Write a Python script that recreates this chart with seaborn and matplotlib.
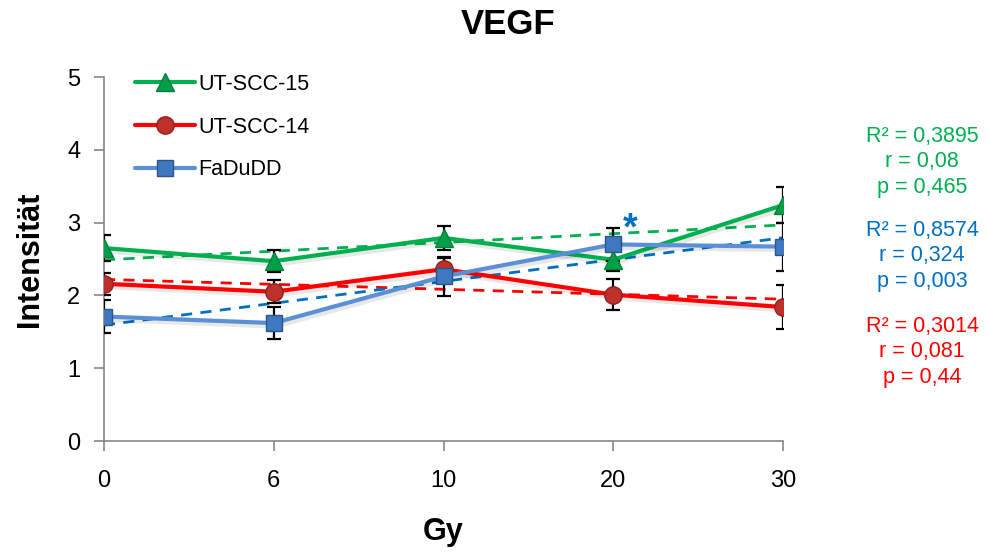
import numpy as np
import pandas as pd
import matplotlib
matplotlib.use("Agg")
import matplotlib.pyplot as plt
import matplotlib.patheffects as pe
from matplotlib.lines import Line2D
import seaborn as sns

# ---- data ----
doses = ["0", "6", "10", "20", "30"]
series_names = ["UT-SCC-15", "UT-SCC-14", "FaDuDD"]
utscc15 = [2.65, 2.47, 2.79, 2.49, 3.24]
utscc15_err = [0.18, 0.15, 0.16, 0.15, 0.25]
utscc14 = [2.16, 2.05, 2.36, 2.01, 1.84]
utscc14_err = [0.15, 0.16, 0.15, 0.21, 0.30]
fadudd = [1.71, 1.62, 2.26, 2.70, 2.67]
fadudd_err = [0.23, 0.22, 0.27, 0.23, 0.33]
stats_15 = "R² = 0,3895\nr = 0,08\np = 0,465"
stats_dd = "R² = 0,8574\nr = 0,324\np = 0,003"
stats_14 = "R² = 0,3014\nr = 0,081\np = 0,44"
y_ticks = [0, 1, 2, 3, 4, 5]

sns.set_theme(style="white")
plt.rcParams["font.family"] = ["Liberation Sans", "DejaVu Sans"]
plt.rcParams["text.color"] = "black"
plt.rcParams["axes.labelcolor"] = "black"

fig = plt.figure(figsize=(9.89, 5.54), dpi=100)
ax = fig.add_axes([104/989, 1-441/554, (783-104)/989, (441-77)/554])

idx = np.arange(len(doses))

styles = [
    dict(name=series_names[0], vals=utscc15, err=utscc15_err, line="#00B050",
         trend="#00B050", marker="^", mfc="#00A04A", mec="#00803A", ms=13.5),
    dict(name=series_names[1], vals=utscc14, err=utscc14_err, line="#FF0000",
         trend="#FF0000", marker="o", mfc="#C0302A", mec="#902020", ms=12.5),
    dict(name=series_names[2], vals=fadudd, err=fadudd_err, line="#5B8FD6",
         trend="#0070C0", marker="s", mfc="#3F78C0", mec="#2A5588", ms=12),
]

shadow = [pe.SimpleLineShadow(offset=(1.5, -2.5), alpha=0.09, shadow_color="black"), pe.Normal()]

# trend lines
for s in styles:
    sns.regplot(x=idx, y=np.array(s["vals"]), ax=ax, scatter=False, ci=None,
                truncate=True,
                line_kws=dict(color=s["trend"], ls=(0, (4, 3)), lw=2.0, zorder=2))

# data lines
for k, s in enumerate(styles):
    df = pd.DataFrame({"x": idx, "y": s["vals"]})
    sns.lineplot(data=df, x="x", y="y", ax=ax, color=s["line"], lw=3.0,
                 zorder=3 + k * 0.01, path_effects=shadow)

# error bars
for s in styles:
    ax.errorbar(idx, s["vals"], yerr=s["err"], fmt="none", ecolor="black",
                elinewidth=1.6, capsize=5, capthick=1.6, zorder=4)

# markers
for s in styles:
    ax.plot(idx, s["vals"], ls="none", marker=s["marker"], ms=s["ms"],
            mfc=s["mfc"], mec=s["mec"], mew=1.0, zorder=5)

# significance star
ax.text(3.1, 2.9, "*", color="#0070C0", fontsize=27, fontweight="bold",
        ha="center", va="center", zorder=6)

ax.set_xlim(0, 4)
ax.set_ylim(0, 5)
ax.set_xticks(idx)
ax.set_xticklabels(doses)
ax.set_yticks(y_ticks)
ax.tick_params(axis="both", labelsize=17, colors="#888888", labelcolor="black",
               length=7, width=1.2, direction="out")
ax.tick_params(axis="x", pad=14)
ax.tick_params(axis="y", pad=10)
ax.tick_params(left=True, bottom=True)
for sp in ["top", "right"]:
    ax.spines[sp].set_visible(False)
for sp in ["left", "bottom"]:
    ax.spines[sp].set_color("#888888")
    ax.spines[sp].set_linewidth(1.2)
ax.grid(False)

ax.set_xlabel("Gy", fontsize=22, fontweight="bold", labelpad=18)
ax.set_ylabel("Intensität", fontsize=22, fontweight="bold", labelpad=16)
fig.suptitle("VEGF", fontsize=25, fontweight="bold", x=508/989, y=0.985, va="top",
             color="black")

handles = [Line2D([0], [0], color=s["line"], lw=3.0, marker=s["marker"], ms=s["ms"],
                  mfc=s["mfc"], mec=s["mec"]) for s in styles]
ax.legend(handles, series_names, loc="upper left", bbox_to_anchor=(135/989, 1-74/554),
          bbox_transform=fig.transFigure, frameon=False, fontsize=15.5,
          handlelength=2.8, handletextpad=0.15, labelspacing=1.0,
          borderpad=0, borderaxespad=0)

for txt, col, yc in [(stats_15, "#00B050", 162), (stats_dd, "#0070C0", 256),
                     (stats_14, "#FF0000", 352)]:
    fig.text(922/989, 1-yc/554, txt, color=col, fontsize=15.5, ha="center",
             va="center", linespacing=1.27)

fig.savefig("out.png", dpi=100)
